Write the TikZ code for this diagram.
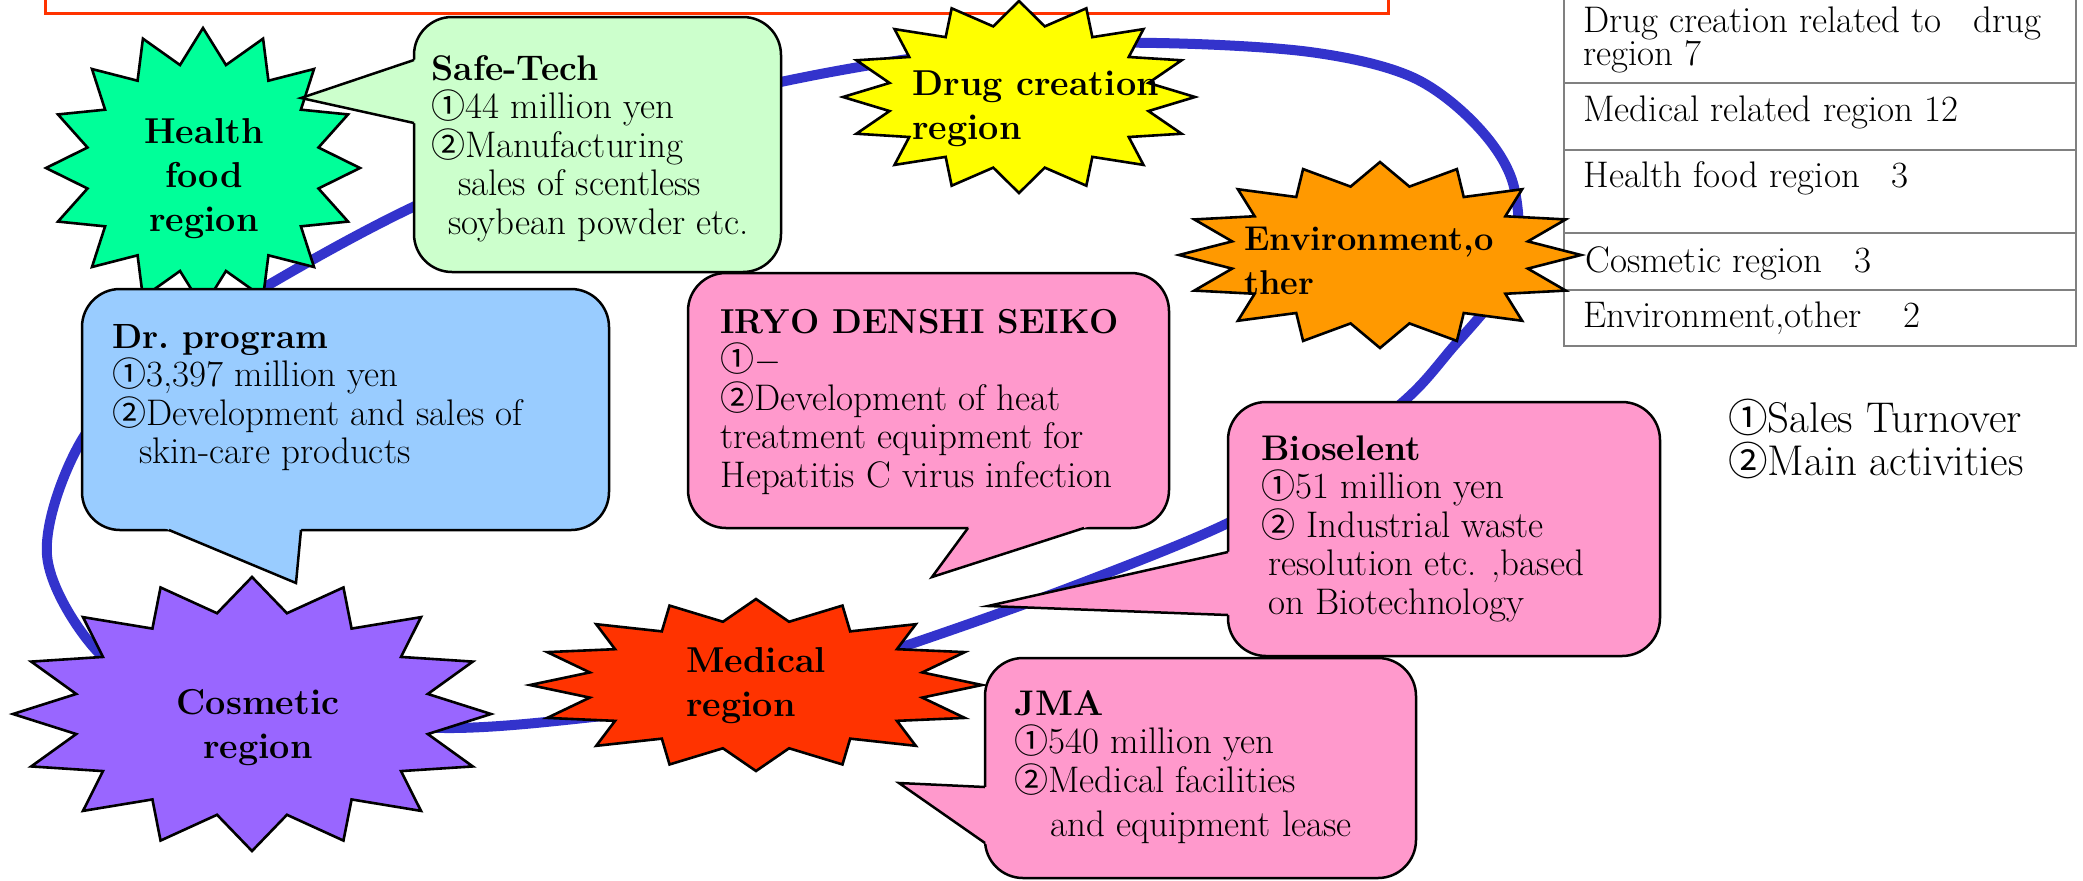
\documentclass[tikz,border=0pt]{standalone}
\usepackage{fontspec}
\newfontfamily\cjk[Scale=0.92]{Noto Sans CJK JP}
\newcommand\cA{{\cjk ①}}
\newcommand\cB{{\cjk ②}}
\newcommand\fs{\rule{0pt}{16pt}}
\AtBeginDocument{\lineskiplimit=-20pt\relax}
\definecolor{loopblue}{HTML}{3333CC}
\definecolor{titlered}{HTML}{FF3300}
\definecolor{healthgreen}{HTML}{00FF99}
\definecolor{drugyellow}{HTML}{FFFF00}
\definecolor{envorange}{HTML}{FF9900}
\definecolor{cosmpurple}{HTML}{9966FF}
\definecolor{medred}{HTML}{FF3300}
\definecolor{stfill}{HTML}{CCFFCC}
\definecolor{drfill}{HTML}{99CCFF}
\definecolor{pinkfill}{HTML}{FF99CC}
\definecolor{tablegray}{HTML}{808080}
\newcommand\burst[6]{%
  \filldraw[fill=#6, draw=black, line width=1.3pt, line join=miter]
    plot[samples at={0,...,31}, variable=\k]
      ({#2+(1-0.25*mod(\k,2))*#4*cos(90+11.25*\k)},
       {#3+(1-0.25*mod(\k,2))*#5*sin(90+11.25*\k)}) -- cycle;
  \coordinate (#1) at (#2,#3);
}
\begin{document}
\begin{tikzpicture}[x=0.5pt, y=-0.5pt,
  box/.style={draw=black, line width=1.25pt, rounded corners=19pt, inner sep=0pt, outer sep=0pt},
  edge/.style={draw=black, line width=1.25pt, line join=miter},
  body/.style={anchor=north west, align=left, inner sep=0pt, font=\fontsize{18.5}{19.25}\selectfont},
  starlbl/.style={inner sep=0pt, font=\bfseries\fontsize{18}{22}\selectfont},
  tab/.style={anchor=north west, align=left, inner sep=0pt, font=\fontsize{18.5}{16.5}\selectfont},
  tabline/.style={draw=tablegray, line width=1.4pt}]
\fill[white] (0,0) rectangle (2083,880);
\useasboundingbox (0,0) rectangle (2083,880);

% blue loop
\draw[loopblue, line width=5pt] plot[smooth cycle, tension=0.55] coordinates {
 (265,287) (413,207) (600,128) (800,78) (1000,47) (1157,43) (1310,52) (1412,77)
 (1478,127) (1514,187) (1512,270) (1448,353) (1403,402) (1320,466) (1228,523)
 (1071,587) (899,648) (750,695) (593,717) (446,728) (300,715) (170,690) (96,650)
 (47,555) (80,443) (160,355)};

% title box (cut off)
\node[draw=titlered, line width=1.5pt, minimum width=671.5pt, minimum height=40pt, inner sep=0pt] (title) at (716.5,-27) {};

% table
\draw[tabline] (1564,-10) -- (1564,346) -- (2076,346) -- (2076,-10);
\foreach \yy in {83,150,233,290} \draw[tabline] (1564,\yy) -- (2076,\yy);
\node[tab] (row1) at (1583,0) {\fs Drug creation related to\hspace{0.86em}drug\\region 7};
\node[tab] (row2) at (1583,89) {\fs Medical related region 12};
\node[tab] (row3) at (1583,155) {\fs Health food region\hspace{0.86em}3};
\node[tab] (row4) at (1585,240) {\fs Cosmetic region\hspace{0.86em}3};
\node[tab] (row5) at (1583,295) {\fs Environment,other\hspace{1.12em}2};

% stars
\burst{health}{203}{168}{157}{140}{healthgreen}
\burst{drug}{1019}{97}{176}{96}{drugyellow}
\burst{env}{1380}{255}{201}{93}{envorange}
\burst{cosm}{252}{714}{239}{137}{cosmpurple}
\burst{med}{756}{685}{226}{86}{medred}
\node[starlbl, anchor=north, align=center] (healthtxt) at (204,111) {\fs Health\\food\\region};
\node[starlbl, anchor=north west, align=left] (drugtxt) at (912,63) {\fs Drug creation\\region};
\node[starlbl, anchor=north west, align=left, font=\bfseries\fontsize{17.2}{22}\selectfont] (envtxt) at (1244,218) {\fs Environment,o\\ther};
\node[starlbl, anchor=north, align=center] (cosmtxt) at (258,682) {\fs Cosmetic\\region};
\node[starlbl, anchor=north west, align=left] (medtxt) at (686,640) {\fs Medical\\region};

% Safe-Tech
\node[box, fill=stfill, minimum width=183.5pt, minimum height=127.5pt] (safetech) at (597.5,144.5) {};
\coordinate (sttip) at (301,98);
\fill[stfill] (420,58) -- (sttip) -- (420,124.3) -- cycle;
\draw[edge] (414,60) -- (sttip) -- (414,123);
\node[body] (sttxt) at (431,48) {\fs{\bfseries\fontsize{17.8}{19.25}\selectfont Safe-Tech}\\\cA44 million yen\\\cB Manufacturing\\\hspace*{13.5pt}sales of scentless\\\hspace*{8.5pt}soybean powder etc.};

% Dr. program
\node[box, fill=drfill, minimum width=263.5pt, minimum height=120.5pt] (drprog) at (345.5,409.5) {};
\coordinate (drtip) at (296,583);
\fill[drfill] (155,524) -- (drtip) -- (301.6,524) -- cycle;
\draw[edge] (169,530) -- (drtip) -- (301,530);
\node[body] (drtxt) at (112,316) {\fs{\bfseries\fontsize{17.5}{19.25}\selectfont Dr.\ program}\\\cA3,397 million yen\\\cB Development and sales of\\\hspace*{13.5pt}skin-care products};

% IRYO DENSHI SEIKO
\node[box, fill=pinkfill, minimum width=240.5pt, minimum height=127.5pt] (iryo) at (928.5,400.5) {};
\coordinate (irtip) at (932,577);
\fill[pinkfill] (972.4,522) -- (irtip) -- (1102.6,522) -- cycle;
\draw[edge] (968,528) -- (irtip) -- (1084,528);
\node[body] (irtxt) at (720,301) {\fs{\bfseries\fontsize{17.3}{19.25}\selectfont IRYO DENSHI SEIKO}\\\cA$-$\\\cB Development of heat\\treatment equipment for\\Hepatitis C virus infection};

% Bioselent
\node[box, fill=pinkfill, minimum width=216pt, minimum height=127pt] (bioselent) at (1444,529) {};
\coordinate (biotip) at (988,606);
\fill[pinkfill] (1234,550.6) -- (biotip) -- (1234,615.2) -- cycle;
\draw[edge] (1228,552) -- (biotip) -- (1228,615);
\node[body] (biotxt) at (1261,428) {\fs{\bfseries\fontsize{17.8}{19.25}\selectfont Bioselent}\\\cA51 million yen\\\cB\ Industrial waste\\\hspace*{3.5pt}resolution etc. ,based\\\hspace*{3.5pt}on Biotechnology};

% JMA
\node[box, fill=pinkfill, minimum width=215.5pt, minimum height=110pt] (jma) at (1200.5,768) {};
\coordinate (jmatip) at (899,783);
\fill[pinkfill] (991,787.3) -- (jmatip) -- (991,847.2) -- cycle;
\draw[edge] (985,787) -- (jmatip) -- (985,843);
\node[body] (jmatxt) at (1014,683) {\fs{\bfseries\fontsize{17.8}{19.25}\selectfont JMA}\\\cA540 million yen\\\cB Medical facilities\\[2.75pt]\hspace*{18pt}and equipment lease};

% legend
\node[anchor=north west, align=left, inner sep=0pt, font=\fontsize{21.5}{21.5}\selectfont] (legend) at (1728,398) {\rule{0pt}{17pt}\cA Sales Turnover\\\cB Main activities};
\end{tikzpicture}
\end{document}
